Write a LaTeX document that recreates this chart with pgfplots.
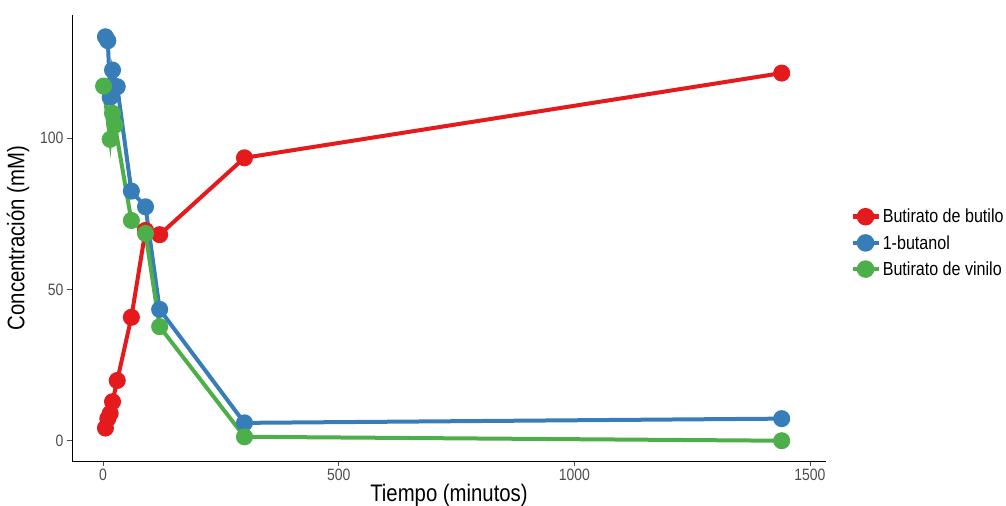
\documentclass[border=0pt]{standalone}
\usepackage{pgfplots}
\pgfplotsset{compat=1.18}
\usepackage{fontspec}
\setmainfont[FakeStretch=0.85]{Liberation Sans}
\definecolor{cred}{HTML}{E41A1C}
\definecolor{cblue}{HTML}{377EB8}
\definecolor{cgreen}{HTML}{4DAF4A}
\definecolor{tickgray}{HTML}{4D4D4D}
\begin{document}
\begin{tikzpicture}
\path[use as bounding box] (-72bp,-45bp) rectangle (934bp,461bp);
\begin{axis}[
  at={(0,0)}, anchor=south west,
  scale only axis, width=754bp, height=446bp,
  xmin=-66, xmax=1534, ymin=-6.7, ymax=140.7,
  axis x line*=bottom, axis y line*=left,
  axis line style={-, black, line width=0.8bp},
  xtick={0,500,1000,1500}, ytick={0,50,100},
  tick align=outside, major tick length=5bp,
  tick style={tickgray, line width=0.8bp},
  ticklabel style={font=\fontsize{16.5}{16.5}\selectfont, text=tickgray},
  /pgf/number format/assume math mode=true,
  /pgf/number format/set thousands separator={},
  xlabel={Tiempo (minutos)}, ylabel={Concentración (mM)},
  xlabel style={at={(axis description cs:0.5,-0.0762)}, anchor=center, font=\fontsize{24}{24}\selectfont},
  ylabel style={at={(axis description cs:-0.0716,0.5)}, anchor=center, rotate=0, font=\fontsize{24}{24}\selectfont},
  legend style={at={(axis description cs:1.028,0.489)}, anchor=west, draw=none, fill=none,
    font=\fontsize{19}{21}\selectfont, row sep=7bp, legend cell align=left},
  legend image code/.code={\draw[#1,mark repeat=2,mark phase=2,line width=4.5bp] plot coordinates {(0bp,0bp) (13bp,0bp) (26bp,0bp)};},
  every axis plot/.append style={line width=4bp, mark=*, mark size=6.5bp, mark options={solid}},
]
\addplot[cred, mark options={fill=cred, draw=cred}] coordinates {
 (5,4.2) (10,7.3) (15,9.0) (20,12.9) (30,19.9) (60,40.8) (90,69.5) (120,68.1) (300,93.5) (1440,121.5)};
\addlegendentry{Butirato de butilo}
\addplot[cblue, mark options={fill=cblue, draw=cblue}] coordinates {
 (5,133.5) (10,132.2) (15,113.5) (20,122.5) (30,117) (60,82.5) (90,77.3) (120,43.4) (300,5.9) (1440,7.3)};
\addlegendentry{1-butanol}
\addplot[cgreen, mark options={fill=cgreen, draw=cgreen}] coordinates {
 (1,117.2) (15,99.6) (20,108.2) (25,104.3) (60,72.8) (90,68.5) (120,37.7) (300,1.3) (1440,0)};
\addlegendentry{Butirato de vinilo}
\end{axis}
\end{tikzpicture}
\end{document}
